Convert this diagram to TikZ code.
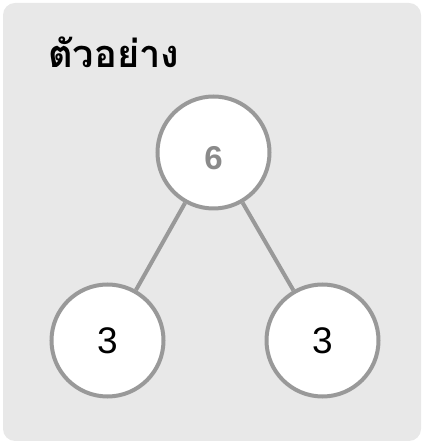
\documentclass[tikz,border=0pt]{standalone}
\usepackage{fontspec}
\setmainfont{Liberation Sans}
\newfontfamily\thaifont[Script=Thai]{Loma}
\usetikzlibrary{positioning}

\definecolor{panelgray}{HTML}{E8E8E8}
\definecolor{ringgray}{HTML}{999999}
\definecolor{digitgray}{HTML}{8A8A8A}

\tikzset{
    ball/.style={circle, draw=ringgray, line width=4pt, fill=white, minimum size=112pt, inner sep=0pt},
    stick/.style={draw=ringgray, line width=4pt},
}

\begin{document}
\begin{tikzpicture}[x=1pt,y=1pt]
    \useasboundingbox (0,0) rectangle (424,444);
    \fill[panelgray, rounded corners=12pt] (3,3) rectangle (421,441);

    \node[anchor=base west, inner sep=0pt] (title) at (48,376) {\thaifont\bfseries\fontsize{38}{40}\selectfont ตัวอย่าง};

    \node[ball] (whole) at (213.5,291.5) {\raisebox{-5pt}[\height][0pt]{\bfseries\fontsize{33}{36}\selectfont\color{digitgray}6}};
    \node[ball] (partA) at (107.5,103.5) {\fontsize{37}{40}\selectfont 3};
    \node[ball] (partB) at (322.5,103.5) {\fontsize{37}{40}\selectfont 3};

    \draw[stick] (whole) -- (partA);
    \draw[stick] (whole) -- (partB);

\end{tikzpicture}
\end{document}
